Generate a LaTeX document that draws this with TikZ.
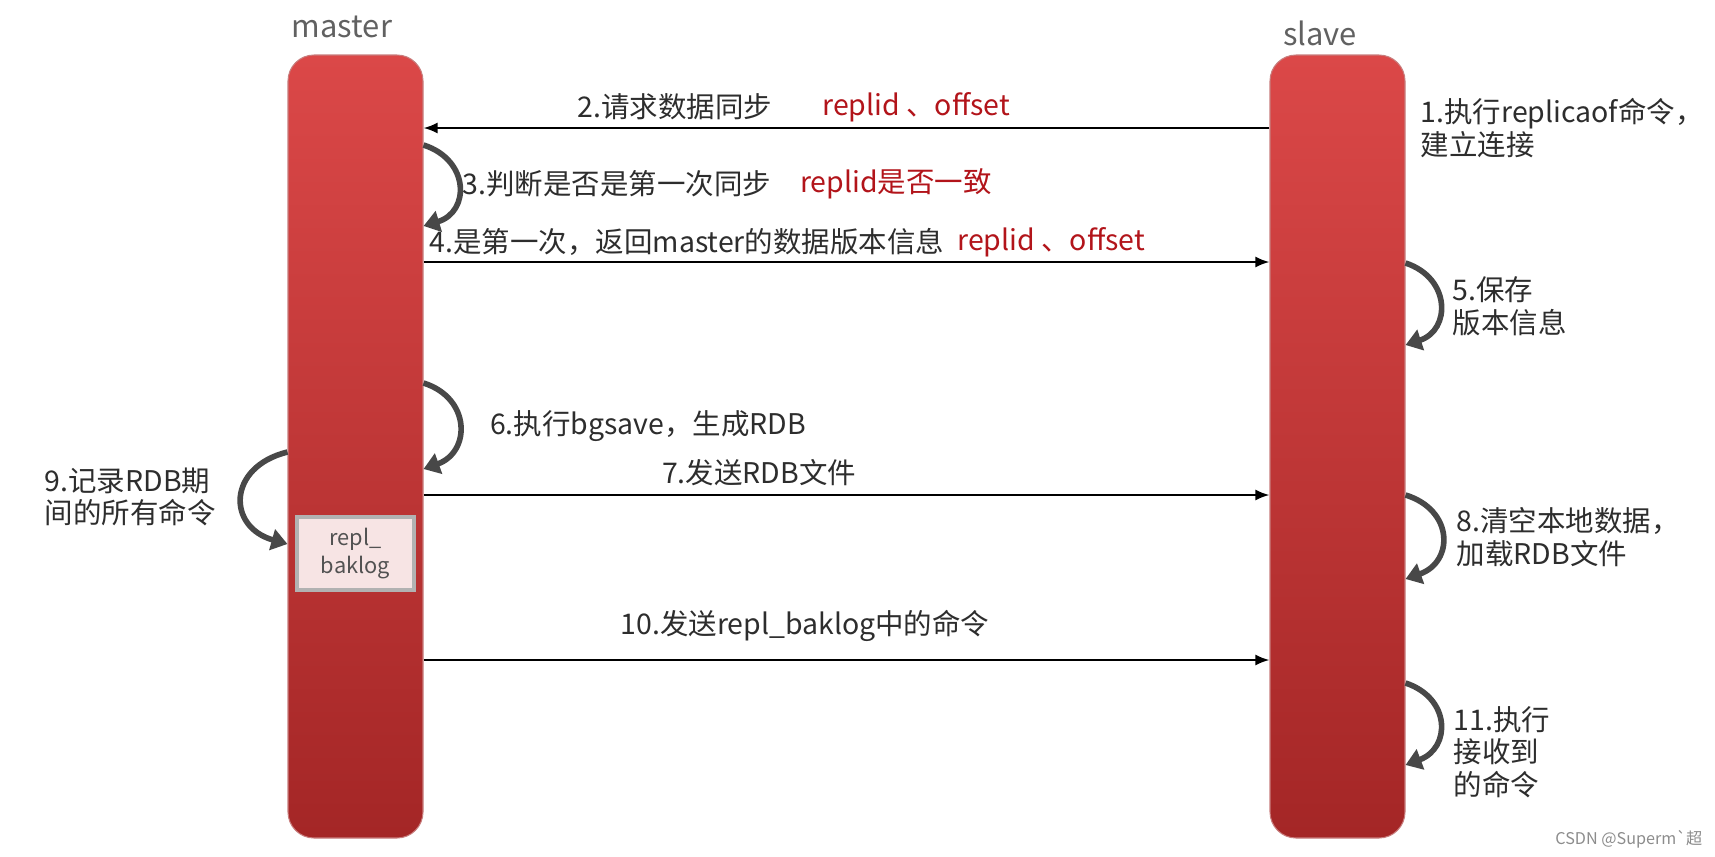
\documentclass[tikz,border=0pt]{standalone}
\usepackage{fontspec}
\setmainfont{Noto Sans CJK SC}
\usetikzlibrary{arrows.meta}
\definecolor{txtgray}{RGB}{45,45,45}
\definecolor{keyred}{RGB}{178,20,26}
\definecolor{bartop}{RGB}{219,72,72}
\definecolor{barbot}{RGB}{164,38,38}
\definecolor{loopgray}{RGB}{72,72,72}
\definecolor{bufpink}{RGB}{247,228,228}
\tikzset{
  lane/.style={rounded corners=2.6mm, minimum width=13.5mm, minimum height=78.3mm,
    top color=bartop, bottom color=barbot, draw=barbot!60!white, line width=0.3pt},
  buffer/.style={fill=bufpink, draw=black!30, line width=1pt, minimum width=11.7mm,
    minimum height=7.3mm, align=center, inner sep=0pt, text=black!68,
    font=\fontsize{6.2}{8.2}\selectfont},
  msg/.style={-{Latex[length=1.4mm,width=1.1mm]}, semithick, black},
  selfloop/.style={-{Triangle[length=1.6mm,width=2.1mm]}, line width=1.6pt, loopgray},
  lbl/.style={font=\fontsize{8.1}{9.3}\selectfont, text=txtgray, inner sep=0pt, align=left},
  keytxt/.style={lbl, text=keyred},
  lanetitle/.style={font=\fontsize{8.8}{10}\selectfont, text=black!62},
}
\begin{document}
\begin{tikzpicture}[x=0.1mm,y=-0.1mm]
\useasboundingbox (0,0) rectangle (1715,856);
%master et slave
\node[lane] (master) at (355.5,446.5) {};
\node[lane] (slave) at (1337.5,446.5) {};
\node[lanetitle] (mastertitle) at (342,27) {master};
\node[lanetitle] (slavetitle) at (1320,33) {slave};
\node[buffer] (baklog) at (355.5,553.5) {repl\_\\baklog};
%1
\node[lbl, anchor=west] (s1) at (1420,128) {1.执行replicaof命令，\\建立连接};
%2
\draw[msg] (slave.west |- 0,128) -- (master.east |- 0,128);
\node[lbl] (s2) at (675,107) {2.请求数据同步};
\node[keytxt] (s2k) at (916,107) {replid 、offset};
%3
\draw[selfloop] (master.east |- 0,145) .. controls (470,160) and (470,212) .. (master.east |- 0,226);
\node[lbl] (s3) at (617,184) {3.判断是否是第一次同步};
\node[keytxt] (s3k) at (896,184) {replid是否一致};
%4
\draw[msg] (master.east |- 0,262) -- (slave.west |- 0,262);
\node[lbl] (s4) at (687,242) {4.是第一次，返回master的数据版本信息};
\node[keytxt] (s4k) at (1051,242) {replid 、offset};
%5
\draw[selfloop] (slave.east |- 0,263) .. controls (1451,278) and (1451,330) .. (slave.east |- 0,345);
\node[lbl, anchor=west] (s5) at (1452,306) {5.保存\\版本信息};
%6
\draw[selfloop] (master.east |- 0,383) .. controls (471,398) and (471,452) .. (master.east |- 0,469);
\node[lbl] (s6) at (648,426) {6.执行bgsave，生成RDB};
%7
\draw[msg] (master.east |- 0,495) -- (slave.west |- 0,495);
\node[lbl] (s7) at (759,473) {7.发送RDB文件};
%8
\draw[selfloop] (slave.east |- 0,495) .. controls (1454,510) and (1454,562) .. (slave.east |- 0,579);
\node[lbl, anchor=west] (s8) at (1456,537) {8.清空本地数据，\\加载RDB文件};
%9
\draw[selfloop] (master.west |- 0,452) .. controls (227,467) and (227,527) .. (master.west |- 0,544);
\node[lbl, anchor=west] (s9) at (44,497) {9.记录RDB期\\间的所有命令};
%10
\draw[msg] (master.east |- 0,660) -- (slave.west |- 0,660);
\node[lbl] (s10) at (805,626) {10.发送repl\_baklog中的命令};
%11
\draw[selfloop] (slave.east |- 0,683) .. controls (1451,698) and (1451,748) .. (slave.east |- 0,765);
\node[lbl, anchor=west] (s11) at (1453,752) {11.执行\\接收到\\的命令};
\node[anchor=east, inner sep=0pt, font=\fontsize{4.6}{5}\selectfont, text=black!45] (mark) at (1703,839) {CSDN @Superm\textasciigrave 超};
\end{tikzpicture}
\end{document}
